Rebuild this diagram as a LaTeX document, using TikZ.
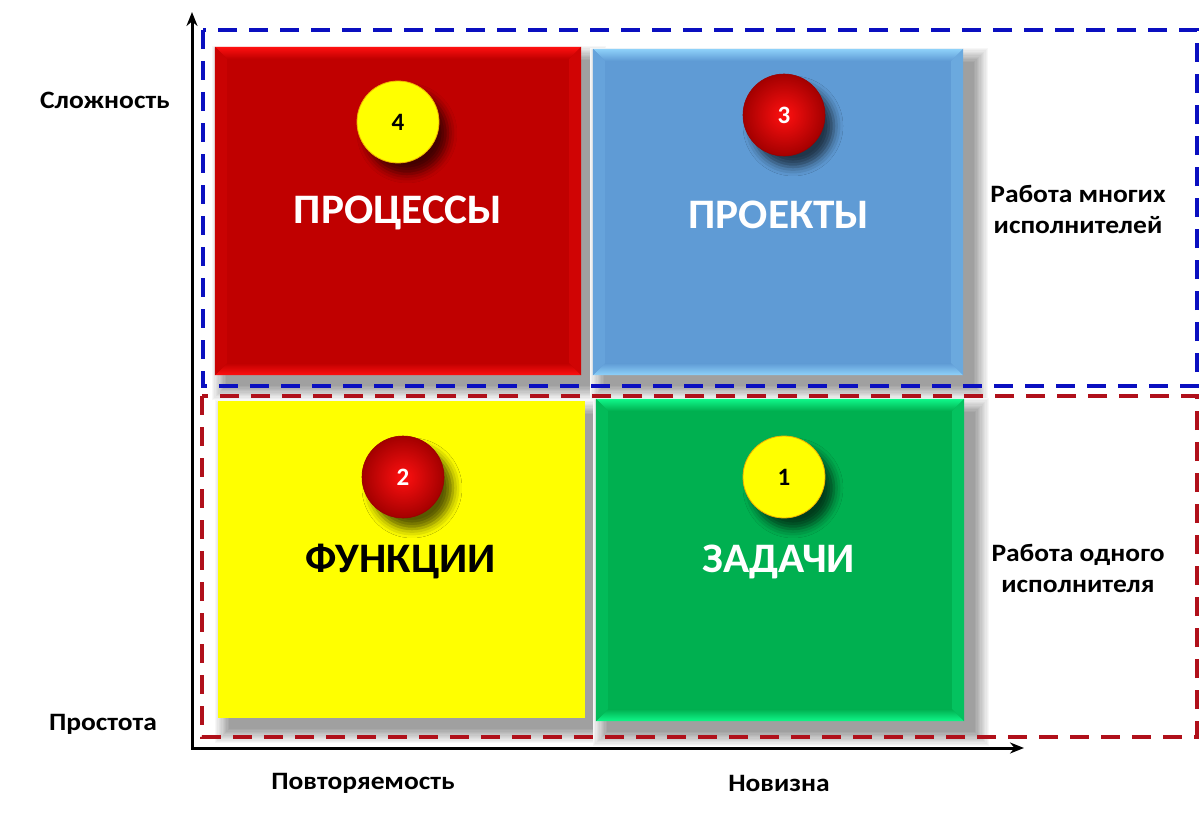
\documentclass[tikz,border=0pt]{standalone}
\usepackage{fontspec}
\setmainfont{Carlito}
\usetikzlibrary{shadows.blur,calc,arrows.meta}
\definecolor{qred}{HTML}{C00000}
\definecolor{qredlt}{HTML}{FF1010}
\definecolor{qblue}{HTML}{5F9BD5}
\definecolor{qbluelt}{HTML}{8FD2FA}
\definecolor{qyellow}{HTML}{FFFF00}
\definecolor{qgreen}{HTML}{00B050}
\definecolor{qgreenlt}{HTML}{10F88A}
\definecolor{dashblue}{HTML}{0A0FC0}
\definecolor{dashred}{HTML}{B0101A}
\definecolor{ballrim}{HTML}{F0B000}
\tikzset{
  quad/.style={rectangle, inner sep=0pt, draw=none},
  quadtitle/.style={font=\fontsize{42}{48}\selectfont\bfseries, inner sep=0pt, xscale=1.03},
  badge/.style={circle, minimum size=82pt, inner sep=0pt,
    font=\fontsize{25}{30}\selectfont\bfseries,
    blur shadow={shadow xshift=9pt, shadow yshift=-11pt, shadow blur radius=9pt, shadow opacity=65}},
  redbadge/.style={badge, inner color=qredlt, outer color=qred!85!black, text=white, draw=qred!80!black, line width=0.6pt},
  yellowbadge/.style={badge, fill=qyellow, draw=ballrim, line width=0.8pt, text=black},
  axislabel/.style={font=\fontsize{25}{30}\selectfont\bfseries, inner sep=0pt, xscale=1.1},
  sidelabel/.style={font=\fontsize{25}{31}\selectfont\bfseries, align=center, inner sep=0pt, xscale=1.1},
  zone/.style={line width=4pt, dash pattern=on 19pt off 12pt},
  axis/.style={line width=3pt, black, -{Stealth[length=14pt,width=11pt]}}
}
\newcommand{\quadbevel}[4]{% node, base, light, depth
  \shade[top color=#3, bottom color=#2]
    (#1.north west) -- (#1.north east) -- ($(#1.north east)+(-#4,#4)$) -- ($(#1.north west)+(#4,#4)$) -- cycle;
  \shade[top color=#2, bottom color=#3]
    (#1.south west) -- (#1.south east) -- ($(#1.south east)+(-#4,-#4)$) -- ($(#1.south west)+(#4,-#4)$) -- cycle;
  \fill[#2!75!#3]
    (#1.north east) -- (#1.south east) -- ($(#1.south east)+(-#4,-#4)$) -- ($(#1.north east)+(-#4,#4)$) -- cycle;
  \fill[#2!85!#3]
    (#1.north west) -- (#1.south west) -- ($(#1.south west)+(#4,-#4)$) -- ($(#1.north west)+(#4,#4)$) -- cycle;
}
% soft shadow drawn as opaque grey rings on the white paper: centre x, centre y, width, height
\newcommand{\quadshadow}[4]{%
  \foreach \k in {11,...,0}{
    \pgfmathsetmacro{\shd}{3.1*(12-\k)}
    \fill[black!\shd!white]
      (#1+11-#3/2-1.3*\k, #2+13-#4/2-1.3*\k) rectangle (#1+11+#3/2+1.3*\k, #2+11+#4/2+1.3*\k);
  }
}
\begin{document}
\begin{tikzpicture}[x=1pt,y=-1pt]
\fill[white] (0,0) rectangle (1200,816);
\useasboundingbox (0,0) rectangle (1200,816);

% shadows of the quadrants
\quadshadow{398}{211}{366}{328}
\quadshadow{778}{212}{370}{326}
\quadshadow{401.5}{559.5}{367}{317}
\quadshadow{780}{560}{368}{322}

% quadrants
\node[quad, fill=qred, minimum width=366pt, minimum height=328pt] (proc) at (398,211) {};
\node[quad, fill=qblue, minimum width=370pt, minimum height=326pt] (proj) at (778,212) {};
\node[quad, fill=qyellow, minimum width=367pt, minimum height=317pt] (func) at (401.5,559.5) {};
\node[quad, fill=qgreen, minimum width=368pt, minimum height=322pt] (task) at (780,560) {};
\quadbevel{proc}{qred}{qredlt}{12}
\quadbevel{proj}{qblue}{qbluelt}{12}
\quadbevel{task}{qgreen}{qgreenlt}{12}

% titles
\node[quadtitle, text=white] (proct) at (398,213) {ПРОЦЕССЫ};
\node[quadtitle, text=white] (projt) at (779,215) {ПРОЕКТЫ};
\node[quadtitle, text=black] (funct) at (401,562) {ФУНКЦИИ};
\node[quadtitle, text=white] (taskt) at (779,562) {ЗАДАЧИ};

% badges
\node[yellowbadge] (b4) at (398,122) {4};
\node[redbadge] (b3) at (784,115) {3};
\node[redbadge] (b2) at (403,477) {2};
\node[yellowbadge] (b1) at (784,477) {1};

% dashed zones
\coordinate (bz1) at (203,30);
\coordinate (bz2) at (1197,386);
\coordinate (rz1) at (202,396);
\coordinate (rz2) at (1197,737);
\draw[zone, dashblue] (bz1) rectangle (bz2);
\draw[zone, dashred] (rz1) rectangle (rz2);

% axes
\coordinate (origin) at (192,748);
\coordinate (ytip) at (192,12);
\coordinate (xtip) at (1024,748);
\draw[axis, line cap=butt] ($(origin)+(0,1.5)$) -- (ytip);
\draw[axis] (origin) -- (xtip);

% labels
\node[axislabel] (lhard) at (105,100) {Сложность};
\node[axislabel] (lsimple) at (103,724) {Простота};
\node[axislabel] (lrep) at (363,783) {Повторяемость};
\node[axislabel] (lnew) at (779,783) {Новизна};
\node[sidelabel] (lmany) at (1078,209) {Работа многих\\исполнителей};
\node[sidelabel] (lone) at (1078,568) {Работа одного\\исполнителя};
\end{tikzpicture}
\end{document}
